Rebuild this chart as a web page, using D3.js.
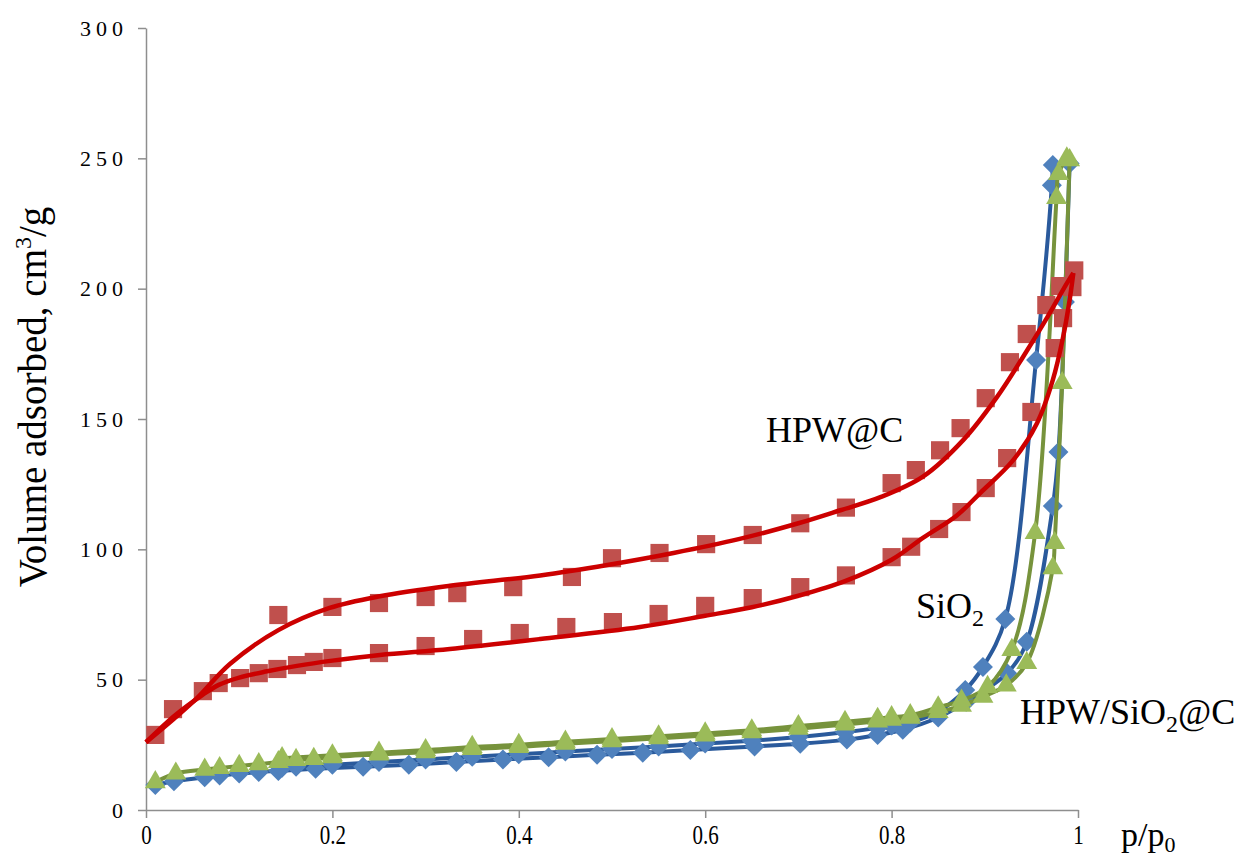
<!DOCTYPE html>
<html>
<head>
<meta charset="utf-8">
<script src="https://cdnjs.cloudflare.com/ajax/libs/d3/7.8.5/d3.min.js"></script>
<style>
  body { margin: 0; background: #fff; }
  #chart { width: 1250px; height: 861px; }
  .axis path, .axis line { stroke: #8e8e8e; stroke-width: 1.5px; }
  .axis text { font-family: "Liberation Serif", "Times New Roman", serif; fill: #000; }
  .label { font-family: "Liberation Serif", "Times New Roman", serif; fill: #000; }
</style>
</head>
<body>
<div id="chart"></div>
<script>
// tick values
const xTicks = [0, 0.2, 0.4, 0.6, 0.8, 1];
const yTicks = [0, 50, 100, 150, 200, 250, 300];

// SiO2 (diamonds) - adsorption
const sio2AdsX = [0.010, 0.030, 0.063, 0.079, 0.100, 0.121, 0.142, 0.182, 0.233, 0.282, 0.333, 0.383, 0.432, 0.484, 0.533, 0.584, 0.653, 0.702, 0.752, 0.785, 0.812, 0.850, 0.880, 0.924, 0.945, 0.973, 0.979, 0.986, 0.991];
const sio2AdsY = [9.6, 11.0, 12.6, 13.2, 14.0, 14.6, 15.0, 15.8, 16.6, 17.4, 18.4, 19.4, 20.2, 21.2, 22.0, 23.0, 24.4, 25.4, 27.0, 28.8, 30.8, 35.5, 41.5, 52.5, 64.5, 116.6, 137.3, 194.9, 248];
// SiO2 - desorption
const sio2DesX = [0.973, 0.972, 0.955, 0.922, 0.898, 0.879, 0.850, 0.820, 0.800, 0.785, 0.750, 0.700, 0.650, 0.600, 0.550, 0.500, 0.450, 0.400, 0.350, 0.300, 0.250, 0.200, 0.161, 0.146];
const sio2DesY = [247.4, 239.7, 172.6, 73.3, 54.9, 46.0, 37.8, 33.6, 32.4, 31.5, 29.8, 28.0, 26.6, 25.5, 24.4, 23.4, 22.4, 21.4, 20.4, 19.4, 18.4, 17.4, 16.6, 16.2];

// HPW/SiO2@C (triangles) - adsorption
const compAdsX = [0.010, 0.032, 0.063, 0.079, 0.100, 0.121, 0.142, 0.161, 0.180, 0.200, 0.250, 0.300, 0.350, 0.400, 0.450, 0.500, 0.550, 0.600, 0.650, 0.700, 0.750, 0.785, 0.800, 0.820, 0.850, 0.875, 0.898, 0.923, 0.945, 0.973, 0.975, 0.983, 0.991];
const compAdsY = [10.7, 14.0, 15.5, 16.1, 16.9, 17.6, 18.4, 19.2, 19.6, 20.3, 21.3, 22.2, 23.4, 24.2, 25.4, 26.4, 27.5, 28.6, 29.8, 31.2, 32.8, 34.0, 34.6, 35.4, 37.6, 40.0, 43.5, 47.8, 56.4, 92.8, 102.4, 163.8, 249.3];
// HPW/SiO2@C - desorption
const compDesX = [0.988, 0.979, 0.977, 0.954, 0.929, 0.903, 0.875, 0.850, 0.820, 0.800, 0.785, 0.750, 0.700, 0.650, 0.600, 0.550, 0.500, 0.450, 0.400, 0.350, 0.300, 0.250, 0.200, 0.146];
const compDesY = [250, 244, 234.8, 106.3, 61.4, 47.2, 42.0, 39.4, 36.4, 35.6, 35.0, 33.8, 32.2, 30.6, 29.4, 28.3, 27.2, 26.2, 25.0, 24.2, 23.0, 22.0, 21.0, 19.9];

// HPW@C (squares) - measured points
const hpwAdsX = [0.010, 0.029, 0.061, 0.078, 0.101, 0.121, 0.141, 0.162, 0.180, 0.200, 0.250, 0.300, 0.351, 0.401, 0.451, 0.501, 0.550, 0.600, 0.651, 0.702, 0.751, 0.800, 0.821, 0.851, 0.875, 0.901, 0.924, 0.950, 0.975, 0.984, 0.994];
const hpwAdsY = [28.8, 38.7, 45.6, 48.7, 50.6, 52.5, 54.1, 55.6, 56.8, 58.3, 60.2, 62.9, 65.6, 67.9, 70.2, 72.1, 75.2, 78.3, 81.3, 85.5, 90.0, 97.0, 101.0, 107.8, 114.3, 123.5, 135.0, 152.7, 177.2, 188.7, 200.6];
const hpwDesX = [0.996, 0.981, 0.966, 0.945, 0.927, 0.901, 0.874, 0.852, 0.826, 0.800, 0.751, 0.702, 0.651, 0.601, 0.551, 0.500, 0.457, 0.394, 0.334, 0.300, 0.250, 0.200, 0.142];
const hpwDesY = [207, 201, 193.7, 182.6, 171.8, 158, 146.5, 138, 130.4, 125.4, 116, 110, 105.5, 102, 98.6, 96.6, 89.4, 85.5, 83.2, 81.7, 79.4, 77.9, 74.8];
// HPW@C - smoothed curves
const hpwFitAdsX = [0, 0.030, 0.060, 0.078, 0.100, 0.130, 0.162, 0.200, 0.251, 0.326, 0.423, 0.530, 0.600, 0.650, 0.700, 0.750, 0.800, 0.834, 0.870, 0.895, 0.930, 0.956, 0.973, 0.984, 0.991, 0.995];
const hpwFitAdsY = [26, 36, 44, 48, 50.8, 53.2, 55.3, 57.3, 59.5, 61.8, 65.6, 70.2, 74.5, 77.8, 82.2, 87.8, 96, 104.5, 113, 121.6, 134, 148.4, 165, 181.4, 195.6, 206];
const hpwFitDesX = [0, 0.030, 0.055, 0.090, 0.142, 0.197, 0.251, 0.326, 0.423, 0.495, 0.566, 0.637, 0.700, 0.745, 0.788, 0.834, 0.877, 0.913, 0.941, 0.967, 0.988, 0.995];
const hpwFitDesY = [26, 35, 43, 56, 69, 77.5, 82, 86, 90, 94, 98.6, 104, 110, 115, 120, 128, 142, 158.4, 173.8, 189, 202, 206];

const zip = (xs, ys) => xs.map((x, i) => ({ x: x, y: ys[i] }));

class IsothermChart {
  constructor(parentElement) {
    this.parentElement = parentElement;
    this.initVis();
  }

  initVis() {
    let vis = this;

    vis.width = 1250;
    vis.height = 861;

    vis.svg = d3.select("#" + vis.parentElement)
      .append("svg")
      .attr("width", vis.width)
      .attr("height", vis.height);

    // scales
    vis.x = d3.scaleLinear().domain([0, 1]).range([146, 1078]);
    vis.y = d3.scaleLinear().domain([0, 300]).range([810, 28]);

    // axes
    vis.xAxis = d3.axisBottom(vis.x).tickValues(xTicks).tickSize(8).tickSizeOuter(0).tickPadding(6)
      .tickFormat(d3.format("~g"));
    vis.yAxis = d3.axisLeft(vis.y).tickValues(yTicks).tickSize(8).tickSizeOuter(0).tickPadding(10);

    vis.svg.append("g").attr("class", "x-axis axis")
      .attr("transform", `translate(0, ${vis.y(0)})`)
      .call(vis.xAxis)
      .selectAll("text")
      .attr("font-size", 28)
      .attr("transform", "scale(0.75,1)");

    vis.svg.append("g").attr("class", "y-axis axis")
      .attr("transform", `translate(${vis.x(0)}, 0)`)
      .call(vis.yAxis)
      .selectAll("text")
      .attr("font-size", 22)
      .attr("letter-spacing", "5px");

    // axis titles
    let yTitle = vis.svg.append("text")
      .attr("class", "label")
      .attr("transform", "translate(46, 397) rotate(-90)")
      .attr("text-anchor", "middle")
      .attr("font-size", 39);
    yTitle.append("tspan").text("Volume adsorbed, cm");
    yTitle.append("tspan").attr("font-size", 24).attr("dy", -15).text("3");
    yTitle.append("tspan").attr("dy", 15).text("/g");

    let xTitle = vis.svg.append("text")
      .attr("class", "label")
      .attr("x", 1121)
      .attr("y", 846)
      .attr("font-size", 34);
    xTitle.append("tspan").text("p/p");
    xTitle.append("tspan").attr("font-size", 22).attr("dy", 6).text("0");

    vis.wrangleData();
  }

  wrangleData() {
    let vis = this;

    vis.lineSeries = [
      { cls: "sio2", color: "#2a5a9c", data: zip(sio2AdsX, sio2AdsY) },
      { cls: "sio2", color: "#2a5a9c", data: zip(sio2DesX, sio2DesY) },
      { cls: "comp", color: "#77933c", data: zip(compAdsX, compAdsY) },
      { cls: "comp", color: "#77933c", data: zip(compDesX, compDesY) },
    ];
    vis.sio2Points = zip(sio2AdsX, sio2AdsY).concat(zip(sio2DesX, sio2DesY));
    vis.compPoints = zip(compAdsX, compAdsY).concat(zip(compDesX, compDesY));
    vis.hpwPoints = zip(hpwAdsX, hpwAdsY).concat(zip(hpwDesX, hpwDesY));
    vis.hpwFits = [zip(hpwFitAdsX, hpwFitAdsY), zip(hpwFitDesX, hpwFitDesY)];

    vis.updateVis();
  }

  updateVis() {
    let vis = this;

    let line = d3.line()
      .x((d) => vis.x(d.x))
      .y((d) => vis.y(d.y))
      .curve(d3.curveCatmullRom.alpha(0.5));

    let plot = vis.svg.append("g").attr("class", "plot");

    // SiO2 lines and diamonds
    plot.selectAll(".sio2-line")
      .data(vis.lineSeries.filter((s) => s.cls === "sio2"))
      .enter().append("path")
      .attr("class", "sio2-line")
      .attr("d", (d) => line(d.data))
      .attr("fill", "none")
      .attr("stroke", (d) => d.color)
      .attr("stroke-width", 4);

    plot.selectAll(".sio2-pt")
      .data(vis.sio2Points)
      .enter().append("path")
      .attr("class", "sio2-pt")
      .attr("d", d3.symbol(d3.symbolSquare, 200))
      .attr("transform", (d) => `translate(${vis.x(d.x)},${vis.y(d.y)}) rotate(45)`)
      .attr("fill", "#4f81bd");

    // HPW/SiO2@C lines and triangles
    plot.selectAll(".comp-line")
      .data(vis.lineSeries.filter((s) => s.cls === "comp"))
      .enter().append("path")
      .attr("class", "comp-line")
      .attr("d", (d) => line(d.data))
      .attr("fill", "none")
      .attr("stroke", (d) => d.color)
      .attr("stroke-width", 4);

    plot.selectAll(".comp-pt")
      .data(vis.compPoints)
      .enter().append("path")
      .attr("class", "comp-pt")
      .attr("d", d3.symbol(d3.symbolTriangle, 190))
      .attr("transform", (d) => `translate(${vis.x(d.x)},${vis.y(d.y)})`)
      .attr("fill", "#9bbb59");

    // HPW@C squares and smoothed curves
    plot.selectAll(".hpw-pt")
      .data(vis.hpwPoints)
      .enter().append("path")
      .attr("class", "hpw-pt")
      .attr("d", d3.symbol(d3.symbolSquare, 330))
      .attr("transform", (d) => `translate(${vis.x(d.x)},${vis.y(d.y)})`)
      .attr("fill", "#c0504d");

    plot.selectAll(".hpw-line")
      .data(vis.hpwFits)
      .enter().append("path")
      .attr("class", "hpw-line")
      .attr("d", (d) => line(d))
      .attr("fill", "none")
      .attr("stroke", "#cc0000")
      .attr("stroke-width", 4.5);

    // series labels
    vis.svg.append("text").attr("class", "label")
      .attr("x", 766).attr("y", 442).attr("font-size", 36)
      .text("HPW@C");

    let si = vis.svg.append("text").attr("class", "label")
      .attr("x", 916).attr("y", 618).attr("font-size", 36);
    si.append("tspan").text("SiO");
    si.append("tspan").attr("font-size", 24).attr("dy", 8).text("2");

    let comp = vis.svg.append("text").attr("class", "label")
      .attr("x", 1020).attr("y", 724).attr("font-size", 36);
    comp.append("tspan").text("HPW/SiO");
    comp.append("tspan").attr("font-size", 24).attr("dy", 8).text("2");
    comp.append("tspan").attr("dy", -8).text("@C");
  }
}

new IsothermChart("chart");
</script>
</body>
</html>
